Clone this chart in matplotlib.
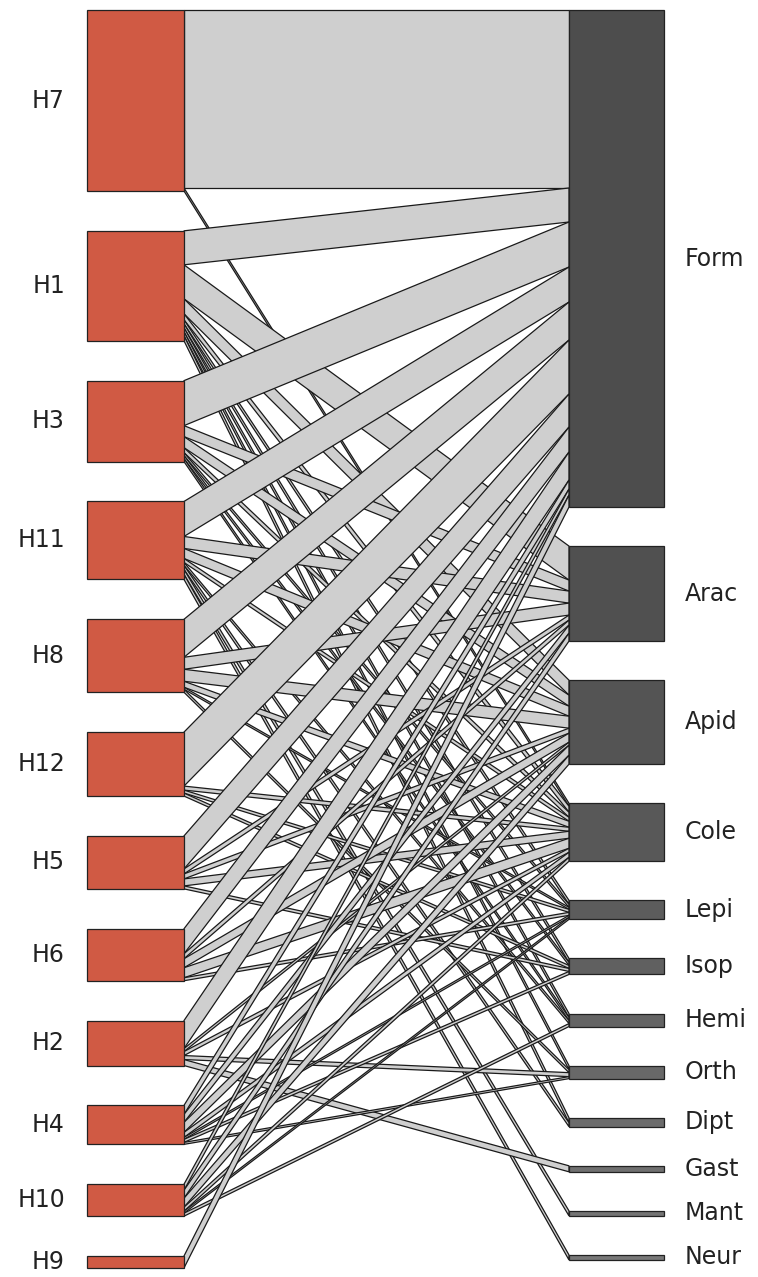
import numpy as np
import matplotlib.pyplot as plt
from matplotlib.patches import Polygon, Rectangle

# lower level (left) and higher level (right) names
low_names = ['H7', 'H1', 'H3', 'H11', 'H8', 'H12', 'H5', 'H6', 'H2', 'H4', 'H10', 'H9']
high_names = ['Form', 'Arac', 'Apid', 'Cole', 'Lepi', 'Isop', 'Hemi', 'Orth', 'Dipt', 'Gast', 'Mant', 'Neur']

# interaction counts, rows = low_names, cols = high_names
H7 = [178, 0, 0, 3, 0, 0, 0, 0, 0, 0, 0, 0]
H1 = [34, 34, 15, 6, 4, 4, 4, 4, 5, 0, 0, 0]
H3 = [45, 11, 11, 5, 3, 3, 3, 0, 0, 0, 0, 0]
H11 = [35, 12, 10, 4, 0, 0, 3, 0, 4, 0, 5, 5]
H8 = [38, 12, 12, 6, 2, 0, 0, 3, 0, 0, 0, 0]
H12 = [54, 0, 0, 4, 3, 3, 0, 0, 0, 0, 0, 0]
H5 = [33, 5, 5, 7, 0, 3, 0, 0, 0, 0, 0, 0]
H6 = [25, 5, 9, 10, 3, 0, 0, 0, 0, 0, 0, 0]
H2 = [28, 0, 3, 4, 0, 0, 0, 4, 0, 6, 0, 0]
H4 = [9, 8, 10, 5, 2, 3, 0, 2, 0, 0, 0, 0]
H10 = [6, 8, 9, 4, 2, 0, 3, 0, 0, 0, 0, 0]
H9 = [12, 0, 0, 0, 0, 0, 0, 0, 0, 0, 0, 0]

web = np.array([H7, H1, H3, H11, H8, H12, H5, H6, H2, H4, H10, H9], dtype=float)

row_sum = web.sum(axis=1)
col_sum = web.sum(axis=0)

# box positions (pixel units)
lx0, lx1 = 87, 184
rx0, rx1 = 569, 664
l_top, l_bot = 10, 1268
r_top, r_bot = 10, 1260

def stack(sizes, top, bot):
    gap = (bot - top - sizes.sum()) / (len(sizes) - 1)
    starts = top + np.concatenate([[0], np.cumsum(sizes[:-1] + gap)])
    return starts

l_start = stack(row_sum, l_top, l_bot)
r_start = stack(col_sum, r_top, r_bot)

fig = plt.figure(figsize=(7.58, 12.77), dpi=100)
ax = fig.add_axes([0, 0, 1, 1])
ax.set_xlim(0, 758)
ax.set_ylim(1277, 0)
ax.axis('off')

# left-side offsets follow column order
l_pos = {}
for i in range(web.shape[0]):
    y = l_start[i]
    for j in range(web.shape[1]):
        if web[i, j] > 0:
            l_pos[(i, j)] = y
            y += web[i, j]
# right-side offsets follow row order
r_pos = {}
for j in range(web.shape[1]):
    y = r_start[j]
    for i in range(web.shape[0]):
        if web[i, j] > 0:
            r_pos[(i, j)] = y
            y += web[i, j]

for (i, j), yl in l_pos.items():
    w = web[i, j]
    yr = r_pos[(i, j)]
    poly = Polygon([(lx1, yl), (lx1, yl + w), (rx0, yr + w), (rx0, yr)],
                   closed=True, facecolor='#cfcfcf', edgecolor='#1a1a1a', lw=0.9)
    ax.add_patch(poly)

# boxes
for i, name in enumerate(low_names):
    ax.add_patch(Rectangle((lx0, l_start[i]), lx1 - lx0, row_sum[i],
                           facecolor='#d05a44', edgecolor='#222222', lw=0.9))
    ax.text(65, l_start[i] + row_sum[i] / 2, name, ha='right', va='center',
            fontsize=17, family='DejaVu Sans', color='#222222')

greys = np.linspace(0.30, 0.47, len(high_names))
for j, name in enumerate(high_names):
    g = greys[j]
    ax.add_patch(Rectangle((rx0, r_start[j]), rx1 - rx0, col_sum[j],
                           facecolor=(g, g, g), edgecolor='#222222', lw=0.9))
    ax.text(685, r_start[j] + col_sum[j] / 2, name, ha='left', va='center',
            fontsize=17, family='DejaVu Sans', color='#222222')

fig.savefig('out.png', dpi=100)
